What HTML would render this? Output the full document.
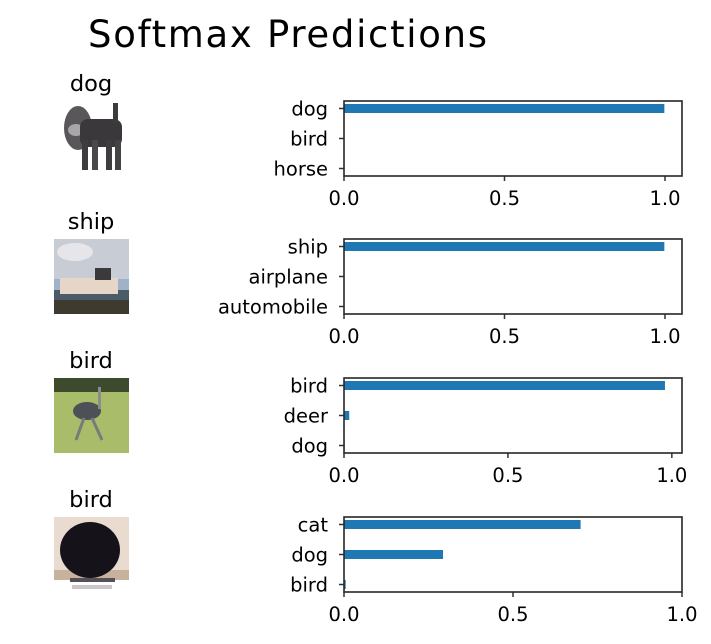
<!DOCTYPE html>
<html><head><meta charset="utf-8"><style>
body{margin:0;background:#fff}
svg text{font-family:"DejaVu Sans","Liberation Sans",sans-serif;fill:#000}
</style></head><body>
<svg id="fig" width="711" height="639" viewBox="0 0 711 639" xmlns="http://www.w3.org/2000/svg">
<rect width="711" height="639" fill="#fff"/>
<text x="88" y="47" font-size="37" textLength="399">Softmax Predictions</text>
<g id="imgs">
 <g>
  <rect x="54" y="100" width="75" height="75" fill="#fff"/>
  <ellipse cx="78" cy="128" rx="14" ry="22" fill="#5a575a"/>
  <ellipse cx="76" cy="130" rx="8" ry="6" fill="#aaa6a8"/>
  <rect x="80" y="119" width="42" height="28" rx="8" fill="#3a383b"/>
  <rect x="113" y="103" width="5" height="20" fill="#3d3b3e"/>
  <rect x="82" y="140" width="6" height="30" fill="#3e3c3f"/>
  <rect x="92" y="140" width="6" height="30" fill="#4a484b"/>
  <rect x="106" y="140" width="6" height="30" fill="#3e3c3f"/>
  <rect x="115" y="140" width="6" height="30" fill="#444245"/>
 </g>
 <g>
  <rect x="54" y="239" width="75" height="75" fill="#9fb2c8"/>
  <rect x="54" y="239" width="75" height="40" fill="#c8ccd4"/>
  <ellipse cx="75" cy="252" rx="18" ry="9" fill="#e6e6ea"/>
  <rect x="54" y="290" width="75" height="24" fill="#4b5c68"/>
  <rect x="60" y="278" width="58" height="16" fill="#e6d6c8"/>
  <rect x="95" y="268" width="16" height="12" fill="#3a3a3a"/>
  <rect x="54" y="300" width="75" height="14" fill="#3f3a2f"/>
 </g>
 <g>
  <rect x="54" y="378" width="75" height="75" fill="#a9bc6a"/>
  <rect x="54" y="378" width="75" height="14" fill="#3e4a2e"/>
  <ellipse cx="87" cy="411" rx="14" ry="9" fill="#4d5157"/>
  <rect x="98" y="387" width="3" height="22" fill="#8a8c8e"/>
  <line x1="84" y1="418" x2="76" y2="440" stroke="#7a7a7a" stroke-width="3"/>
  <line x1="92" y1="418" x2="102" y2="440" stroke="#7a7a7a" stroke-width="3"/>
 </g>
 <g>
  <rect x="54" y="517" width="75" height="63" fill="#eadbd0"/>
  <rect x="54" y="570" width="75" height="10" fill="#c8b29c"/>
  <ellipse cx="90" cy="550" rx="30" ry="28" fill="#15121a"/>
  <rect x="70" y="578" width="45" height="4" fill="#55505a"/>
  <rect x="72" y="585" width="40" height="4" fill="#c9c6cc"/>
 </g>
</g>
<text x="91" y="91" font-size="22.5" text-anchor="middle">dog</text>
<text x="91" y="229" font-size="22.5" text-anchor="middle">ship</text>
<text x="91" y="368" font-size="22.5" text-anchor="middle">bird</text>
<text x="91" y="507" font-size="22.5" text-anchor="middle">bird</text>
<g id="charts"></g>
</svg>
<script>
const labels1 = ["dog","bird","horse"];
const values1 = [0.998,0.001,0.0005];
const labels2 = ["ship","airplane","automobile"];
const values2 = [0.998,0.001,0.0005];
const labels3 = ["bird","deer","dog"];
const values3 = [0.979,0.016,0.002];
const labels4 = ["cat","dog","bird"];
const values4 = [0.70,0.293,0.005];
const xMaxes = [1.053,1.053,1.031,1.0];
const xTicks = [0,0.5,1.0];
const xTickLabels = ["0.0","0.5","1.0"];

const NS="http://www.w3.org/2000/svg";
const root=document.getElementById('charts');
const tops=[101,239,378,517];
const L=344,R=682,H=75;
function mk(tag,attrs,parent){const e=document.createElementNS(NS,tag);for(const k in attrs)e.setAttribute(k,attrs[k]);parent.appendChild(e);return e;}
const allLabels=[labels1,labels2,labels3,labels4];
const allValues=[values1,values2,values3,values4];
allLabels.forEach((labs,ri)=>{
  const vals=allValues[ri];
  const top=tops[ri], bot=top+H;
  const xs=v=>L+v/xMaxes[ri]*(R-L);
  const ys=i=>top+(i+0.25)/2.5*H;
  const g=mk('g',{},root);
  
  
  vals.forEach((v,i)=>{
    const r=mk('rect',{x:L,y:ys(i)-4.5,width:Math.max(0,xs(v)-L),height:9,fill:'#1f77b4'},g);
    
    
    mk('line',{x1:L-5,x2:L,y1:ys(i),y2:ys(i),stroke:'#333','stroke-width':1.5},g);
    const t=mk('text',{x:L-16,y:ys(i)+7,'font-size':19.5,'text-anchor':'end'},g);
    t.textContent=labs[i];
    
    
  });
  xTicks.forEach((v,i)=>{
    const x=xs(v);
    mk('line',{x1:x,x2:x,y1:bot,y2:bot+5,stroke:'#333','stroke-width':1.5},g);
    const t=mk('text',{x:x,y:bot+29,'font-size':19.5,'text-anchor':'middle'},g);
    t.textContent=xTickLabels[i];
    
    
  });
  const f=mk('rect',{x:L,y:top,width:R-L,height:H,fill:'none',stroke:'#262626','stroke-width':1.6},g);
  
  
});
</script>
</body></html>
